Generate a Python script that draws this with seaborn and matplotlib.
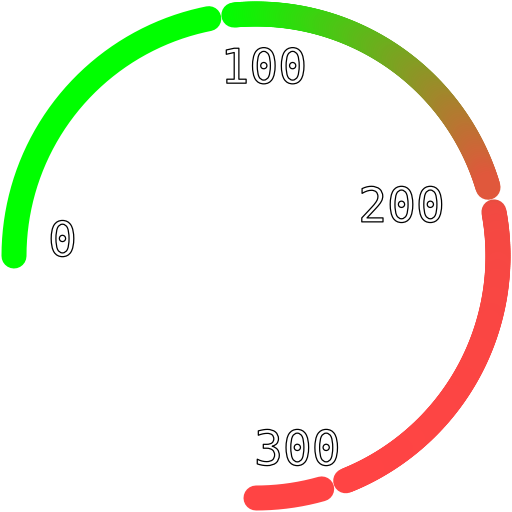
import numpy as np
import matplotlib
matplotlib.use("Agg")
import matplotlib.pyplot as plt
import seaborn as sns
from matplotlib.collections import LineCollection
from matplotlib import patheffects as pe
from matplotlib.colors import to_rgb

# gauge bands (value ranges) and their colours
band_start = [0, 100, 200, 300]
band_end = [100, 200, 300, 320]
band_color_from = ['#00ff00', '#00ff00', '#e84e40', '#ff4444']
band_color_to = ['#00ff00', '#e0583c', '#ff4444', '#ff4444']
tick_labels = ['0', '100', '200', '300']

# layout
SWEEP = 270.0      # degrees used by the whole gauge
PAD = 6.0          # degrees between bands
RADIUS = 242       # px, radius of the band centre line
WIDTH = 18         # pt
blend_power = [1, 1, 0.25, 1]
label_theta = [0.0, 92.6, 166.8, 258.8]   # deg clockwise from west
label_r = [193.5, 173, 149.5, 213]


def to_angle(v, i):
    k = (SWEEP - PAD * (len(band_start) - 1)) / (band_end[-1] - band_start[0])
    return np.deg2rad((v - band_start[0]) * k + i * PAD)


sns.set_style("white")
fig = plt.figure(figsize=(5.12, 5.12), dpi=100)
ax = fig.add_axes([0, 0, 1, 1], projection='polar')
ax.set_theta_zero_location('W')
ax.set_theta_direction(-1)
ax.set_ylim(0, 256)
ax.axis('off')

for i in range(len(band_start)):
    c0 = np.array(to_rgb(band_color_from[i]))
    c1 = np.array(to_rgb(band_color_to[i]))
    vals = np.linspace(band_start[i], band_end[i], 160)
    th = to_angle(vals, i)
    if np.allclose(c0, c1):
        ax.plot(th, np.full_like(th, RADIUS), color=c0, lw=WIDTH,
                solid_capstyle='round')
        continue
    segs = [[(th[j], RADIUS), (th[j + 1], RADIUS)] for j in range(len(th) - 1)]
    f = np.linspace(0, 1, len(segs))[:, None] ** blend_power[i]
    cols = c0 * (1 - f) + c1 * f
    lc = LineCollection(segs, colors=cols, linewidths=WIDTH, capstyle='round')
    ax.add_collection(lc)

for lab, t, r in zip(tick_labels, label_theta, label_r):
    # white fill with a thin black outline
    ax.text(np.deg2rad(t), r, lab, ha='center', va='baseline', fontsize=34.5,
            family='DejaVu Sans Mono', color='white',
            path_effects=[pe.Stroke(linewidth=0.9, foreground='black')])

fig.savefig('out.png', dpi=100)
